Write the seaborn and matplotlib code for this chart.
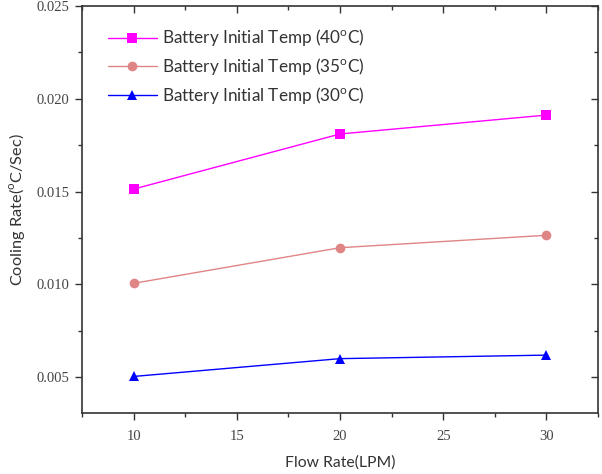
import matplotlib
matplotlib.use("Agg")
import matplotlib.pyplot as plt
import seaborn as sns
import pandas as pd
from matplotlib.ticker import MultipleLocator

flow_rate = [10, 20, 30]
rate_40 = [0.01513, 0.01810, 0.01912]
rate_35 = [0.01005, 0.01197, 0.01264]
rate_30 = [0.00503, 0.00599, 0.00618]
series_names = [r"Battery Initial Temp (40$^{\mathrm{o}}$C)",
                r"Battery Initial Temp (35$^{\mathrm{o}}$C)",
                r"Battery Initial Temp (30$^{\mathrm{o}}$C)"]
colors = ["#FF00FF", "#E08585", "#0000FF"]
markers = ["s", "o", "^"]

rows = []
for name, vals in zip(series_names, [rate_40, rate_35, rate_30]):
    for x, v in zip(flow_rate, vals):
        rows.append({"Flow": x, "Rate": v, "Series": name})
df = pd.DataFrame(rows)

sns.set_theme(style="ticks")
plt.rcParams["font.family"] = ["Lato", "DejaVu Sans"]
plt.rcParams["mathtext.fontset"] = "custom"
plt.rcParams["mathtext.rm"] = "Lato"

fig = plt.figure(figsize=(6.02, 4.74), dpi=100)
ax = fig.add_axes([82/602, 1-413/474, (598-82)/602, (413-6)/474])

sns.lineplot(data=df, x="Flow", y="Rate", hue="Series", style="Series",
             hue_order=series_names, style_order=series_names,
             palette=colors, markers=markers, dashes=False,
             markersize=7, linewidth=1.0, markeredgewidth=0, ax=ax)

ax.set_xlim(7.5, 32.5)
ax.set_ylim(0.00306, 0.025)
ax.xaxis.set_major_locator(MultipleLocator(5))
ax.xaxis.set_minor_locator(MultipleLocator(2.5))
ax.yaxis.set_minor_locator(MultipleLocator(0.0025))
ax.set_yticks([0.005, 0.010, 0.015, 0.020, 0.025])
ax.set_yticklabels(["0.005", "0.010", "0.015", "0.020", "0.025"])

for s in ax.spines.values():
    s.set_visible(True)
    s.set_color("#333333")
    s.set_linewidth(1.2)

ax.tick_params(which="both", top=True, right=True, color="#333333", width=1.0)
ax.tick_params(which="major", length=5)
ax.tick_params(which="minor", length=3)
ax.tick_params(axis="x", which="major", pad=7)
ax.tick_params(axis="y", which="major", pad=4)
ax.xaxis.set_tick_params(which="both", direction="out")
ax.yaxis.set_tick_params(which="both", direction="out")
for t in ax.xaxis.get_major_ticks() + ax.xaxis.get_minor_ticks():
    t.tick2line.set_marker(3)
for t in ax.yaxis.get_major_ticks() + ax.yaxis.get_minor_ticks():
    t.tick2line.set_marker(0)
for lab in ax.get_xticklabels() + ax.get_yticklabels():
    lab.set_family("Liberation Serif")
    lab.set_fontsize(10.5)
    lab.set_color("#444444")

ax.set_xlabel("Flow Rate(LPM)", fontsize=11.3, color="#333333", labelpad=9)
ax.set_ylabel(r"Cooling Rate($^{\mathrm{o}}$C/Sec)", fontsize=11.8, color="#333333", labelpad=7)

leg = ax.legend(loc="upper left", bbox_to_anchor=(0.02, 0.985), frameon=False,
                fontsize=12.3, handlelength=2.9, handletextpad=0.3, labelspacing=0.45,
                labelcolor="#333333")

fig.savefig("out.png", dpi=100)
